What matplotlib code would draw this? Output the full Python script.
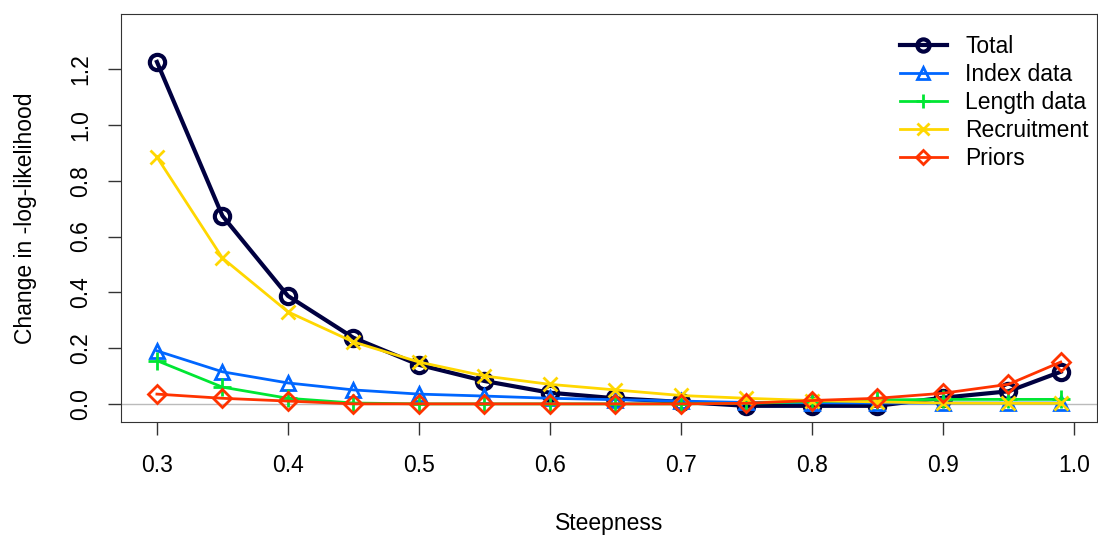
import numpy as np
import matplotlib.pyplot as plt

plt.rcParams['font.family'] = ['Liberation Sans', 'DejaVu Sans']

steepness = [0.3, 0.35, 0.4, 0.45, 0.5, 0.55, 0.6, 0.65, 0.7, 0.75, 0.8, 0.85, 0.9, 0.95, 0.99]

total = [1.226, 0.674, 0.387, 0.237, 0.14, 0.082, 0.04, 0.02, 0.007, -0.007, -0.007, -0.007, 0.022, 0.045, 0.115]
index_data = [0.19, 0.115, 0.075, 0.05, 0.035, 0.028, 0.02, 0.015, 0.01, 0.005, 0.004, 0.003, 0.003, 0.003, 0.003]
length_data = [0.155, 0.06, 0.02, 0.003, 0.0, 0.0, 0.0, 0.0, 0.0, 0.002, 0.008, 0.014, 0.016, 0.016, 0.016]
recruitment = [0.885, 0.523, 0.33, 0.222, 0.15, 0.1, 0.07, 0.05, 0.03, 0.02, 0.012, 0.007, 0.003, 0.002, 0.002]
priors = [0.035, 0.02, 0.01, 0.0, 0.0, 0.0, 0.0, 0.0, 0.0, 0.002, 0.012, 0.02, 0.038, 0.07, 0.15]

series = [
    ('Total', total, '#000040', 'o', 3.0, 11),
    ('Index data', index_data, '#0066FF', '^', 2.0, 10),
    ('Length data', length_data, '#00E633', '+', 2.0, 13),
    ('Recruitment', recruitment, '#FFD700', 'x', 2.0, 10),
    ('Priors', priors, '#FF3300', 'D', 2.0, 9),
]

fs = 16.5

fig = plt.figure(figsize=(10.98, 5.36), dpi=100)
ax = fig.add_axes([0.110, 0.2127, 0.889, 0.7613])

ax.axhline(0, color='#BBBBBB', lw=1, zorder=0)

for name, vals, col, mk, lw, ms in series:
    ax.plot(steepness, vals, color=col, lw=lw, marker=mk, ms=ms,
            mfc='none', mec=col, mew=lw, label=name)

ax.set_xlim(0.2724, 1.0176)
ax.set_ylim(-0.065, 1.398)
ax.set_xticks([0.3, 0.4, 0.5, 0.6, 0.7, 0.8, 0.9, 1.0])
ax.set_xticklabels(['0.3', '0.4', '0.5', '0.6', '0.7', '0.8', '0.9', '1.0'])
ax.set_yticks([0.0, 0.2, 0.4, 0.6, 0.8, 1.0, 1.2])
ax.set_yticklabels(['0.0', '0.2', '0.4', '0.6', '0.8', '1.0', '1.2'], rotation=90, va='center')
ax.tick_params(axis='both', length=9.5, width=1, labelsize=fs, color='#333333')
ax.tick_params(axis='x', pad=13.5)
ax.tick_params(axis='y', pad=11)
for sp in ax.spines.values():
    sp.set_color('#333333')

ax.set_xlabel('Steepness', fontsize=fs, labelpad=25)
ax.set_ylabel('Change in -log-likelihood', fontsize=fs, labelpad=23)

ax.legend(loc='upper left', frameon=False, fontsize=fs, handlelength=2.05,
          labelspacing=0.22, handletextpad=0.8, borderaxespad=0, borderpad=0,
          markerscale=0.8, bbox_to_anchor=(0.798, 0.948))

fig.savefig('out.png', dpi=100)
